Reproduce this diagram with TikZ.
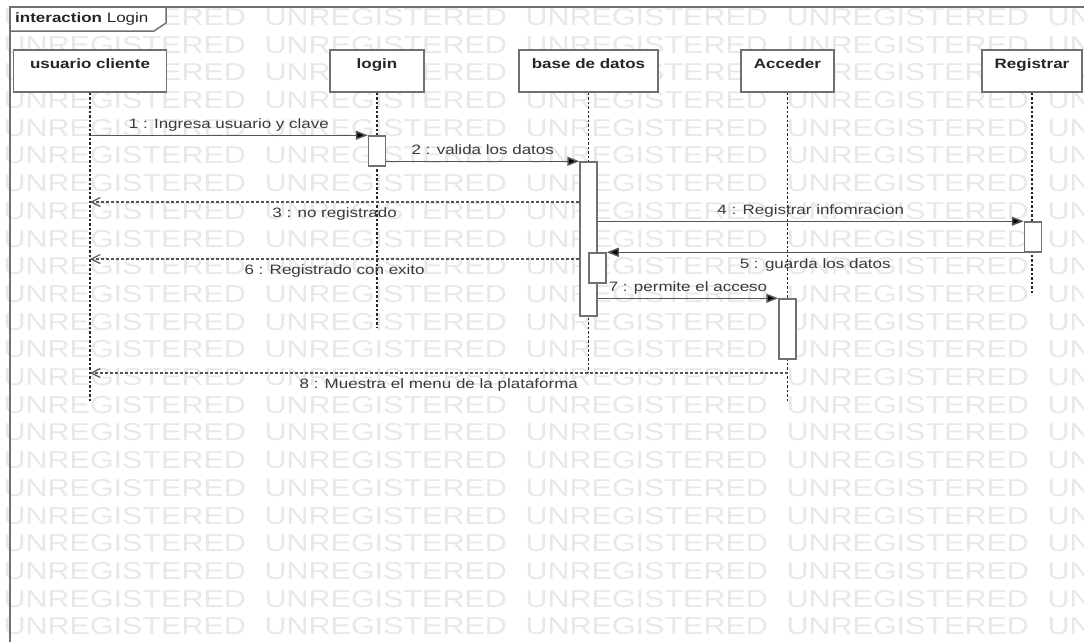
\documentclass[tikz,border=0pt]{standalone}
\usepackage{fontspec}
\setmainfont{Liberation Sans}[FakeStretch=1.25]
\usetikzlibrary{arrows.meta}
\definecolor{boxgray}{HTML}{707070}
\definecolor{msggray}{HTML}{555555}
\definecolor{txtgray}{HTML}{3A3A3A}

\begin{document}
\begin{tikzpicture}[x=1pt,y=-1pt,
  every node/.style={font=\fontsize{13.6}{16}\selectfont},
  head/.style={draw=boxgray,line width=1.5pt,fill=white,
    font=\fontsize{13.6}{16}\selectfont\bfseries,text=black!85,
    minimum height=42pt,inner xsep=0pt,inner ysep=6pt,
    text height=12.5pt,text depth=17.5pt},
  act/.style={draw=boxgray,line width=1.5pt,fill=white,minimum width=17pt,inner sep=0pt},
  life/.style={line width=1.3pt,dash pattern=on 2.5pt off 2pt,black!85},
  call/.style={line width=1.5pt,draw=msggray,-{Triangle[length=12pt,width=9pt,fill=black]}},
  ret/.style={line width=1.2pt,draw=msggray,dash pattern=on 3pt off 2pt,
    -{Straight Barb[length=9pt,width=9pt]}},
  txt/.style={inner sep=1pt,text height=10pt,text depth=3pt,text=txtgray},
  frame/.style={draw=boxgray,line width=1.5pt},
  wm/.style={anchor=west,inner sep=0pt,text=black!9,font=\fontsize{24.4}{26}\selectfont},
]
  \useasboundingbox (0,0) rectangle (1084,641);
  \clip (0,0) rectangle (1084,641);

  \foreach \r in {0,...,22}
    \foreach \c in {0,...,4}
      \node[wm] (wm-\r-\c) at (3.4+261*\c,17+27.7*\r) {UNREGISTERED};

  \draw[frame] (1090,7) -- (10,7) -- (10,650);
  \draw[frame,fill=white] (10,7) -- (166,7) -- (166,23) -- (154,31) -- (10,31) -- cycle;
  \node[anchor=west,inner sep=0pt,text=black!85] (frm) at (15,19) {\textbf{interaction} Login};

  \node[head,minimum width=153pt] (usr) at (90,71) {usuario cliente};
  \node[head,minimum width=94pt] (login) at (377,71) {login};
  \node[head,minimum width=139pt] (base) at (588.5,71) {base de datos};
  \node[head,minimum width=93pt] (acc) at (787.5,71) {Acceder};
  \node[head,minimum width=100pt] (reg) at (1032,71) {Registrar};

  \draw[life] (usr.south) -- (usr |- 0,403);
  \draw[life] (login.south) -- (login |- 0,328);
  \draw[life] (base.south) -- (base |- 0,373);
  \draw[life] (acc.south) -- (acc |- 0,403);
  \draw[life] (reg.south) -- (reg |- 0,295);

  \node[act,minimum height=30pt] (actL) at (377,151) {};
  \node[act,minimum height=154pt] (actB) at (588.5,239) {};
  \node[act,minimum height=30pt] (actR) at (1033,237) {};
  \node[act,minimum height=30pt] (actN) at (597.5,268) {};
  \node[act,minimum height=60pt] (actA) at (787.5,329) {};

  \coordinate (y3) at (0,202);
  \coordinate (y6) at (0,259);
  \coordinate (y8) at (0,373);

  \draw[call] (usr |- actL.north) -- node[txt,above=2pt] (t1) {1 : Ingresa usuario y clave} (actL.north west);
  \draw[call] (actL.east |- actB.north) -- node[txt,above=2pt] (t2) {2 : valida los datos} (actB.north west);
  \draw[ret] (actB.west |- y3) -- node[txt,below=4pt] (t3) {3 : no registrado} (usr |- y3);
  \draw[call] (actB.east |- actR.north) -- node[txt,above=2pt] (t4) {4 : Registrar infomracion} (actR.north west);
  \draw[call] (actR.west |- actN.north) -- node[txt,below=4pt] (t5) {5 : guarda los datos} (actN.north east);
  \draw[ret] (actB.west |- y6) -- node[txt,below=4pt] (t6) {6 : Registrado con exito} (usr |- y6);
  \draw[call] (actB.east |- actA.north) -- node[txt,above=2pt] (t7) {7 : permite el acceso} (actA.north west);
  \draw[ret] (acc |- y8) -- node[txt,below=4pt] (t8) {8 : Muestra el menu de la plataforma} (usr |- y8);
\end{tikzpicture}
\end{document}
